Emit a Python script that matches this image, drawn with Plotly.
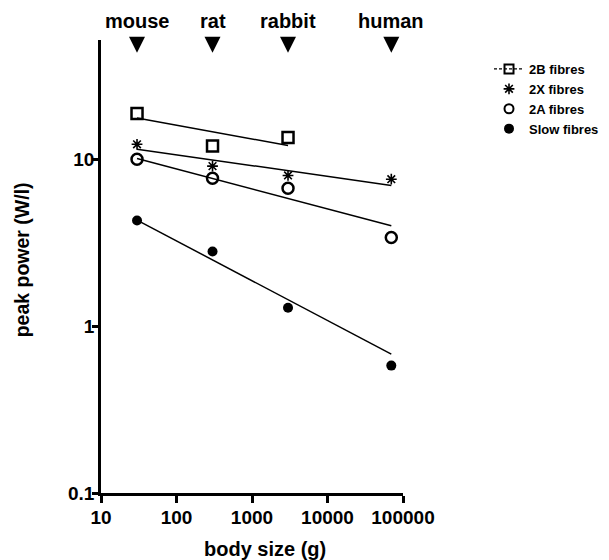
import numpy as np
import plotly.graph_objects as go

# ---- data ----
animals = ["mouse", "rat", "rabbit", "human"]
mass_g = [30, 300, 3000, 70000]

power_2B = [18.8, 12.0, 13.5]          # mouse, rat, rabbit
power_2X = [12.3, 9.1, 8.0, 7.6]
power_2A = [10.0, 7.7, 6.7, 3.4]
power_slow = [4.3, 2.8, 1.29, 0.58]

# regression line end points
fit_2B_x = [30, 3000]
fit_2B_y = [17.7, 12.1]
fit_x = [30, 70000]
fit_2X_y = [11.5, 6.97]
fit_2A_y = [10.1, 4.0]
fit_slow_y = [4.32, 0.68]

x_ticks = [10, 100, 1000, 10000, 100000]
x_ticktext = ["10", "100", "1000", "10000", "100000"]
y_ticks = [0.1, 1, 10]
y_ticktext = ["0.1", "1", "10"]

FONT = "Liberation Sans, Arial, Helvetica, sans-serif"
arrow_level = 43.5

# the page body has an 8px margin; size the figure so it fills the window
PAGE_OFF = 8
W, H = 609 - PAGE_OFF, 560 - PAGE_OFF

fig = go.Figure()

# regression lines
for xs, ys in [(fit_2B_x, fit_2B_y), (fit_x, fit_2X_y), (fit_x, fit_2A_y), (fit_x, fit_slow_y)]:
    fig.add_trace(go.Scatter(x=xs, y=ys, mode="lines", showlegend=False,
                             line=dict(color="black", width=1.5), hoverinfo="skip"))

# data points
fig.add_trace(go.Scatter(x=mass_g[:3], y=power_2B, mode="markers", showlegend=False,
                         marker=dict(symbol="square-open", size=11, color="black",
                                     line=dict(width=2.5, color="black"))))
fig.add_trace(go.Scatter(x=[None], y=[None], mode="lines+markers", name="2B fibres",
                         line=dict(color="black", width=1.2, dash="3px,2px"),
                         marker=dict(symbol="square-open", size=9, color="black",
                                     line=dict(width=2, color="black"))))
fig.add_trace(go.Scatter(x=mass_g, y=power_2X, mode="markers", name="2X fibres",
                         marker=dict(symbol="asterisk-open", size=9, color="black",
                                     line=dict(width=1.6, color="black"))))
fig.add_trace(go.Scatter(x=mass_g, y=power_2A, mode="markers", showlegend=False,
                         marker=dict(symbol="circle-open", size=11, color="black",
                                     line=dict(width=2.5, color="black"))))
fig.add_trace(go.Scatter(x=[None], y=[None], mode="markers", name="2A fibres",
                         marker=dict(symbol="circle-open", size=9, color="black",
                                     line=dict(width=2, color="black"))))
fig.add_trace(go.Scatter(x=mass_g, y=power_slow, mode="markers", name="Slow fibres",
                         marker=dict(symbol="circle", size=10, color="black")))

# animal arrows
fig.add_trace(go.Scatter(x=mass_g, y=[arrow_level] * len(mass_g), mode="markers",
                         showlegend=False, cliponaxis=False, hoverinfo="skip",
                         marker=dict(symbol="arrow-down", size=16, color="black")))

annotations = []
for name, m in zip(animals, mass_g):
    annotations.append(dict(x=np.log10(m), y=1.0427, xref="x", yref="paper",
                            text="<b>%s</b>" % name, showarrow=False,
                            xanchor="center", yanchor="middle",
                            font=dict(family=FONT, size=20, color="black")))
annotations.append(dict(x=0.5415, y=-0.1227, xref="paper", yref="paper",
                        text="<b>body size (g)</b>", showarrow=False,
                        xanchor="center", yanchor="middle",
                        font=dict(family=FONT, size=20, color="black")))
annotations.append(dict(x=-0.2613, y=0.5138, xref="paper", yref="paper",
                        text="<b>peak power (W/l)</b>", showarrow=False, textangle=-90,
                        xanchor="center", yanchor="middle",
                        font=dict(family=FONT, size=19.5, color="black")))

axis_common = dict(showgrid=False, zeroline=False, showline=True, linecolor="black",
                   linewidth=2.5, ticks="outside", tickcolor="black", tickwidth=2.5,
                   tickfont=dict(family=FONT, size=19, color="black", weight="bold"))

fig.update_layout(
    width=W, height=H,
    margin=dict(l=101 - PAGE_OFF, r=206, t=40 - PAGE_OFF, b=67, autoexpand=False),
    paper_bgcolor="white", plot_bgcolor="white",
    xaxis=dict(type="log", range=[1, 5], tickvals=x_ticks, ticktext=x_ticktext,
               ticklen=7, ticklabelstandoff=-2, **axis_common),
    yaxis=dict(type="log", range=[-1, 1.715], tickvals=y_ticks, ticktext=y_ticktext,
               ticklen=6, ticklabelstandoff=-6, **axis_common),
    legend=dict(xref="container", yref="container",
                x=(489 - PAGE_OFF) / W, y=1 - (54 - PAGE_OFF) / H,
                xanchor="left", yanchor="top",
                font=dict(family=FONT, size=13, color="black", weight="bold"),
                bgcolor="rgba(0,0,0,0)", tracegroupgap=0, itemsizing="trace"),
    annotations=annotations,
    showlegend=True,
)

fig.write_html("out.html")
